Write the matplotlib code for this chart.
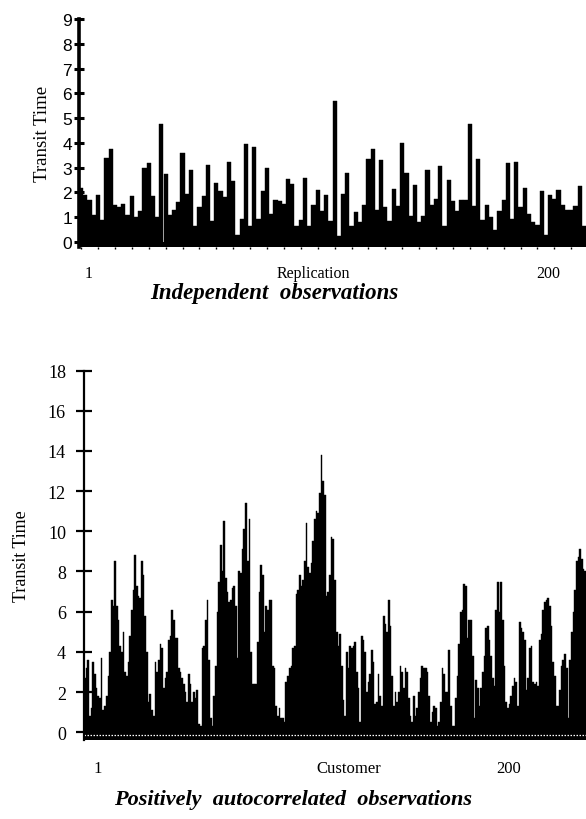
import matplotlib
matplotlib.use("Agg")
import matplotlib.pyplot as plt
import numpy as np

# ---------------- data ----------------
# Top panel: independent observations (transit time per replication)
indep_values = [
    2.2, 1.9, 1.7, 1.1, 1.9, 0.9, 3.4, 3.75, 1.5, 1.4, 1.55, 1.1, 1.85, 1.0, 1.25, 3.0, 3.2, 1.85, 1.0, 4.75,
    2.75, 1.1, 1.3, 1.6, 3.6, 1.95, 2.9, 0.65, 1.4, 1.85, 3.1, 0.85, 2.4, 2.05, 1.8, 3.25, 2.45, 0.3, 0.95, 3.95,
    0.65, 3.85, 0.95, 2.05, 3.0, 1.15, 1.7, 1.65, 1.55, 2.55, 2.35, 0.65, 0.9, 2.6, 0.65, 1.5, 2.1, 1.25, 1.9, 0.85,
    5.7, 0.25, 1.95, 2.8, 0.65, 1.2, 0.8, 1.5, 3.35, 3.75, 1.3, 3.3, 1.4, 0.85, 2.15, 1.45, 4.0, 2.8, 1.05, 2.3,
    0.8, 1.05, 2.9, 1.5, 1.75, 3.05, 0.65, 2.5, 1.65, 1.25, 1.7, 1.7, 4.75, 1.45, 3.35, 0.9, 1.5, 1.0, 0.5, 1.25,
    1.7, 3.2, 0.95, 3.25, 1.4, 2.2, 1.15, 0.8, 0.7, 2.05, 0.3, 1.9, 1.75, 2.1, 1.5, 1.3, 1.3, 1.45, 2.25, 0.65,
]

# Bottom panel: positively autocorrelated observations (transit time per customer)
autocorr_values = [
    2.7, 3.2, 3.6, 0.8, 1.2, 3.5, 2.9, 2.2, 1.8, 1.7, 3.7, 1.1, 1.3, 1.8, 2.8, 4.0, 6.6, 6.3, 8.5, 6.3,
    5.6, 4.3, 4.0, 5.0, 3.0, 2.8, 3.5, 4.8, 6.1, 7.1, 8.8, 7.3, 6.8, 6.7, 8.5, 7.8, 5.8, 4.0, 1.5, 1.9,
    1.1, 0.8, 3.5, 3.0, 3.6, 4.4, 4.2, 2.2, 2.7, 3.0, 4.6, 4.8, 6.1, 5.6, 4.7, 4.7, 3.2, 3.0, 2.7, 2.4,
    2.0, 1.5, 2.9, 2.4, 1.5, 2.0, 1.7, 2.1, 0.4, 0.3, 4.2, 4.3, 5.6, 6.6, 3.6, 0.7, 0.3, 1.8, 3.3, 6.0,
    7.5, 9.3, 8.0, 10.5, 7.7, 7.0, 6.5, 6.6, 7.2, 7.3, 6.3, 3.7, 8.0, 7.9, 9.1, 10.1, 11.4, 8.5,
    10.6, 4.0, 2.4, 2.4, 2.4, 4.5, 7.0, 8.3, 7.8, 5.0, 6.3, 6.1, 6.6, 6.6, 3.3, 3.2, 1.3, 0.8, 1.2, 0.7,
    0.7, 0.5, 2.5, 2.8, 3.2, 3.3, 4.2, 4.3, 6.9, 7.1, 7.8, 7.3, 7.6, 8.5, 10.4, 8.2, 7.9, 8.4, 9.5, 10.6,
    11.0, 10.9, 11.9, 13.8, 12.5, 11.8, 6.8, 7.0, 7.8, 9.7, 9.6, 7.6, 5.0, 4.3, 4.9, 3.3, 1.6, 0.8, 4.0, 3.2,
    4.3, 4.2, 4.3, 4.5, 3.0, 2.2, 0.5, 4.8, 4.6, 4.0, 2.0, 2.5, 2.9, 4.1, 3.5, 1.4, 1.5, 2.9, 1.8, 1.3,
    5.8, 5.4, 5.0, 6.6, 5.3, 2.8, 1.3, 2.0, 1.5, 2.0, 3.3, 3.0, 2.2, 3.2, 3.0, 1.7, 0.8, 0.5, 1.8,
    0.8, 1.2, 2.0, 2.7, 3.3, 3.2, 3.2, 3.0, 1.8, 0.5, 1.0, 1.3, 1.2, 0.3, 0.5, 1.5, 3.2, 2.9, 2.0, 2.0,
    4.1, 1.3, 0.3, 0.3, 1.7, 2.8, 4.4, 6.0, 6.1, 7.4, 7.3, 4.7, 5.6, 5.6, 3.8, 0.7, 2.6, 2.2, 1.3, 2.2,
    3.0, 3.8, 5.2, 5.3, 4.6, 3.8, 2.7, 2.3, 6.1, 7.5, 6.0, 7.5, 5.6, 3.3, 1.5, 1.2, 1.4, 1.8, 2.3, 2.7,
    2.5, 1.3, 5.5, 5.2, 5.0, 4.6, 2.1, 2.7, 4.2, 4.3, 2.5, 2.4, 2.5, 2.3, 4.6, 4.9, 6.1, 6.5, 6.6, 6.7,
    6.3, 5.3, 3.5, 2.8, 1.3, 1.3, 2.1, 3.3, 3.6, 3.9, 3.2, 0.7, 3.6, 5.0, 6.0, 7.1, 8.5, 8.7, 9.1, 8.6,
    8.1, 8.0,
]

top_yticks = list(range(0, 10))
bottom_yticks = list(range(0, 20, 2))
top_xlabels = ["1", "Replication", "200"]
bottom_xlabels = ["1", "Customer", "200"]
ylabel_text = "Transit Time"
top_title = "Independent  observations"
bottom_title = "Positively  autocorrelated  observations"

# ---------------- figure ----------------
W, H = 586, 820
fig = plt.figure(figsize=(W / 100, H / 100), dpi=100)
fig.patch.set_facecolor("white")

SERIF = ["Liberation Serif", "DejaVu Serif"]
SANS = ["Liberation Sans", "DejaVu Sans"]


def px_axes(left, top, right, bottom):
    return fig.add_axes([left / W, 1 - bottom / H, (right - left) / W, (bottom - top) / H])


# ---- top panel ----
ax1 = px_axes(79, 20, 586, 248)
n1 = len(indep_values)
x1 = np.arange(n1)
ax1.bar(x1, indep_values, width=1.0, color="black", edgecolor="black", linewidth=0.3)
ax1.axhspan(-0.2, 0, color="black", lw=0)
ax1.set_xlim(-0.5, n1 - 0.5)
ax1.set_ylim(-0.2, 9)
for s in ["top", "right", "bottom"]:
    ax1.spines[s].set_visible(False)
ax1.spines["left"].set_linewidth(2.6)
ax1.spines["left"].set_bounds(-0.2, 9)
ax1.set_yticks(top_yticks)
ax1.set_yticklabels([str(v) for v in top_yticks], family=SANS, fontsize=12.5)
ax1.tick_params(axis="y", direction="inout", length=7, width=2.2, pad=1.5)
ax1.set_xticks([1.9, 55.0, 110.6])
ax1.set_xticklabels(top_xlabels, family=SERIF, fontsize=11.5)
ax1.tick_params(axis="x", length=0, pad=13)
ax1.set_xticks(np.arange(0, n1, 4), minor=True)
ax1.tick_params(axis="x", which="minor", direction="out", length=1.5, width=1, color="black")
ax1.set_ylabel(ylabel_text, family=SERIF, fontsize=13.5, labelpad=8)

# ---- bottom panel ----
ax2 = px_axes(84, 371.5, 586, 741.3)
n2 = len(autocorr_values)
x2 = np.arange(n2)
ax2.bar(x2, autocorr_values, width=1.0, color="black", edgecolor="black", linewidth=0.3)
ax2.axhspan(-0.4, 0, color="black", lw=0)
ax2.axhline(-0.12, color="white", lw=0.9, ls=(0, (1.2, 1.2)))
ax2.set_xlim(-0.5, n2 - 0.5)
ax2.set_ylim(-0.4, 18)
for s in ["top", "right", "bottom"]:
    ax2.spines[s].set_visible(False)
ax2.spines["left"].set_linewidth(1.6)
ax2.set_yticks(bottom_yticks)
ax2.set_yticklabels([str(v) for v in bottom_yticks], family=SERIF, fontsize=13)
ax2.tick_params(axis="y", direction="inout", length=12, width=1.6, pad=7)
ax2.set_xticks([7.8, 157.0, 252.5])
ax2.set_xticklabels(bottom_xlabels, family=SERIF, fontsize=12)
ax2.tick_params(axis="x", length=0, pad=14)
ax2.set_ylabel(ylabel_text, family=SERIF, fontsize=13, labelpad=13)

# ---- titles ----
fig.text(274 / W, 1 - 293 / H, top_title, ha="center", va="center",
         family=SERIF, fontsize=16.5, fontweight="bold", fontstyle="italic")
fig.text(293 / W, 1 - 800 / H, bottom_title, ha="center", va="center",
         family=SERIF, fontsize=16, fontweight="bold", fontstyle="italic")

fig.savefig("out.png", dpi=100, facecolor="white")
